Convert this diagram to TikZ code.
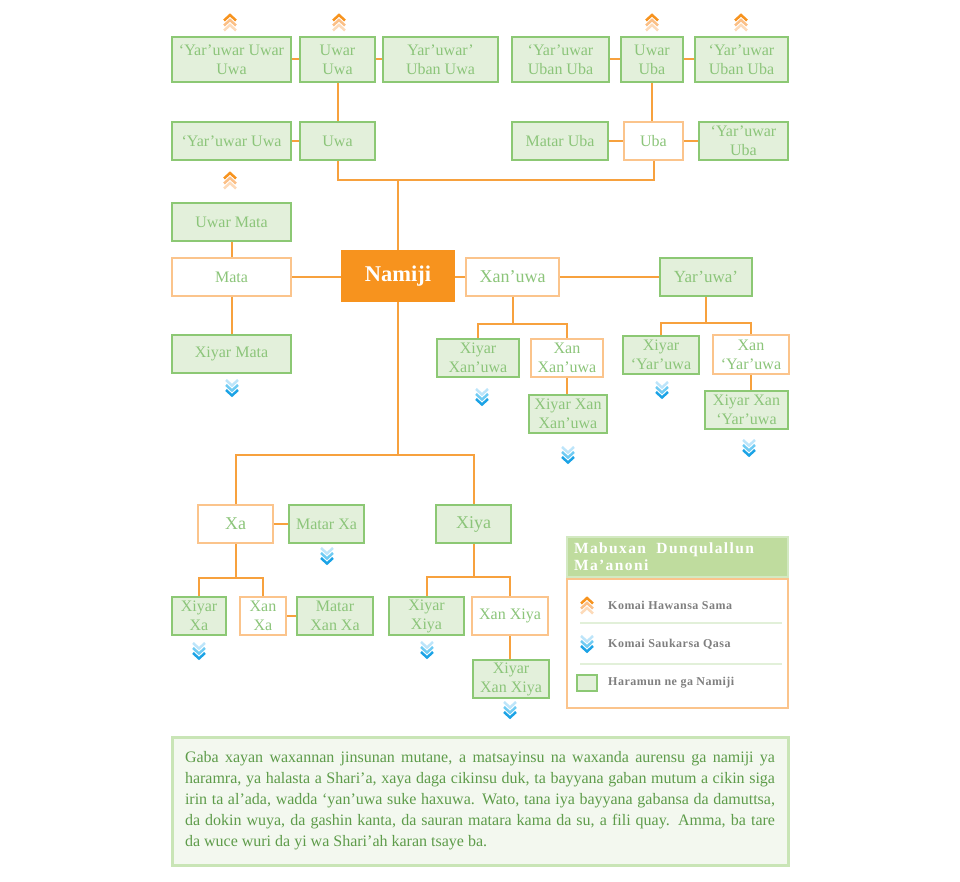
\documentclass[tikz,border=0pt]{standalone}
\usepackage{fontspec}
\setmainfont{Liberation Serif}
\definecolor{kinline}{HTML}{8CC874}
\definecolor{kinfill}{HTML}{E3F0DB}
\definecolor{kintext}{HTML}{8CC57A}
\definecolor{bloodline}{HTML}{FBC48C}
\definecolor{linkorange}{HTML}{F7A13E}
\definecolor{selffill}{HTML}{F7931E}
\definecolor{upA}{HTML}{F7931E}
\definecolor{upB}{HTML}{FBBF86}
\definecolor{upC}{HTML}{FDDAB8}
\definecolor{dnA}{HTML}{BDE5FA}
\definecolor{dnB}{HTML}{6FCBF3}
\definecolor{dnC}{HTML}{1BA3E6}
\definecolor{leghead}{HTML}{BFDC9E}
\definecolor{legheadline}{HTML}{D3E9C2}
\definecolor{legsep}{HTML}{E2F0D9}
\definecolor{legray}{HTML}{7F7F7F}
\definecolor{notefill}{HTML}{F3F8EF}
\definecolor{noteline}{HTML}{C9E5B6}
\definecolor{notetext}{HTML}{5E9C4A}
\begin{document}
\begin{tikzpicture}[x=1pt,y=-1pt,
  every node/.style={inner sep=0pt, align=center, text=kintext, font={\fontsize{16}{19}\selectfont}},
  kin/.style={draw=kinline, fill=kinfill, line width=2pt},
  blood/.style={draw=bloodline, fill=white, line width=2pt},
  bx/.style 2 args={minimum width=#1, minimum height=#2},
  big/.style={font={\fontsize{18}{21}\selectfont}},
  link/.style={linkorange, line width=2pt},
  legtext/.style={text=legray, font={\fontsize{12}{14}\selectfont\bfseries\addfontfeature{LetterSpace=4}}}]
  \useasboundingbox (0,0) rectangle (960,882);
  % ascendants
  \node[kin, bx={119}{45}] (yuuw) at (231.5,59.5) {‘Yar’uwar Uwar\\Uwa};
  \node[kin, bx={75}{45}] (uuw) at (337.5,59.5) {Uwar\\Uwa};
  \node[kin, bx={115}{45}] (yubuw) at (440.5,59.5) {Yar’uwar’\\Uban Uwa};
  \node[kin, bx={97}{45}] (yubub) at (560.5,59.5) {‘Yar’uwar\\Uban Uba};
  \node[kin, bx={62}{45}] (uub) at (652,59.5) {Uwar\\Uba};
  \node[kin, bx={93}{45}] (yububb) at (741.5,59.5) {‘Yar’uwar\\Uban Uba};
  \node[kin, bx={119}{38}] (yuw) at (231.5,141) {‘Yar’uwar Uwa};
  \node[kin, bx={75}{38}] (uwa) at (337.5,141) {Uwa};
  \node[kin, bx={96}{38}] (mub) at (560,141) {Matar Uba};
  \node[blood, bx={59}{38}] (uba) at (653.5,141) {Uba};
  \node[kin, bx={89}{38}] (yub) at (743.5,141) {‘Yar’uwar\\Uba};
  % mata
  \node[kin, bx={119}{38}] (umata) at (231.5,222) {Uwar Mata};
  \node[blood, bx={119}{38}] (mata) at (231.5,277) {Mata};
  \node[kin, bx={119}{38}] (xmata) at (231.5,354) {Xiyar Mata};
  \node[fill=selffill, bx={114}{52}, text=white, font={\fontsize{22.5}{26}\selectfont\bfseries}] (namiji) at (398,276) {Namiji};
  % siblings
  \node[blood, big, bx={93}{38}] (xanuwa) at (512.5,277) {Xan’uwa};
  \node[kin, bx={92}{38}, font={\fontsize{17}{20}\selectfont}] (yaruwa) at (706,277) {Yar’uwa’};
  \node[kin, bx={82}{38}] (xixu) at (478,358) {Xiyar\\Xan’uwa};
  \node[blood, bx={72}{38}] (xanxu) at (567,358) {Xan\\Xan’uwa};
  \node[kin, bx={78}{38}] (xixanxu) at (568,414) {Xiyar Xan\\Xan’uwa};
  \node[kin, bx={76}{38}] (xiyu) at (661,355) {Xiyar\\‘Yar’uwa};
  \node[blood, bx={76}{39}] (xanyu) at (751,354.5) {Xan\\‘Yar’uwa};
  \node[kin, bx={83}{38}] (xixanyu) at (746.5,410) {Xiyar Xan\\‘Yar’uwa};
  % descendants
  \node[blood, big, bx={75}{38}] (xa) at (235.5,524) {Xa};
  \node[kin, bx={75}{38}] (mxa) at (326.5,524) {Matar Xa};
  \node[kin, big, bx={75}{38}] (xiya) at (473.5,524) {Xiya};
  \node[kin, bx={54}{38}] (xixa) at (199,616) {Xiyar\\Xa};
  \node[blood, bx={46}{38}] (xanxa) at (263,616) {Xan\\Xa};
  \node[kin, bx={76}{38}] (mxanxa) at (335,616) {Matar\\Xan Xa};
  \node[kin, bx={75}{38}] (xixiya) at (426.5,616) {Xiyar\\Xiya};
  \node[blood, bx={76}{38}] (xanxiya) at (510,616) {Xan Xiya};
  \node[kin, bx={76}{38}] (xixanxiya) at (511,679) {Xiyar\\Xan Xiya};
  % links
  \draw[link] (yuuw.east) -- (uuw.west);
  \draw[link] (uuw.east) -- (yubuw.west);
  \draw[link] (yubub.east) -- (uub.west);
  \draw[link] (uub.east) -- (yububb.west);
  \draw[link] (uuw.south) -- (uwa.north);
  \draw[link] (uub.south) -- (uub.south |- uba.north);
  \draw[link] (yuw.east) -- (uwa.west);
  \draw[link] (mub.east) -- (uba.west);
  \draw[link] (uba.east) -- (yub.west);
  \draw[link] (namiji.north) -- ++(0,-70) coordinate (upj);
  \draw[link] (uwa.south) |- (upj) -| (uba.south);
  \draw[link] (umata.south) -- (mata.north);
  \draw[link] (mata.south) -- (xmata.north);
  \draw[link] (mata.east) -- (mata.east -| namiji.west);
  \draw[link] (namiji.east |- xanuwa.west) -- (xanuwa.west);
  \draw[link] (xanuwa.east) -- (yaruwa.west);
  \draw[link] (xanuwa.south) -- ++(0,27) coordinate (xuj);
  \draw[link] (xixu.north) |- (xuj) -| (xanxu.north);
  \draw[link] (xanxu.south) -- (xanxu.south |- xixanxu.north);
  \draw[link] (yaruwa.south) -- ++(0,26) coordinate (yuj);
  \draw[link] (xiyu.north) |- (yuj) -| (xanyu.north);
  \draw[link] (xanyu.south) -- (xanyu.south |- xixanyu.north);
  \draw[link] (namiji.south) -- ++(0,153) coordinate (dnj);
  \draw[link] (xa.north) |- (dnj) -| (xiya.north);
  \draw[link] (xa.east) -- (mxa.west);
  \draw[link] (xa.south) -- ++(0,34) coordinate (xaj);
  \draw[link] (xixa.north) |- (xaj) -| (xanxa.north);
  \draw[link] (xanxa.east) -- (mxanxa.west);
  \draw[link] (xiya.south) -- ++(0,33) coordinate (xij);
  \draw[link] (xixiya.north) |- (xij) -| (xanxiya.north);
  \draw[link] (xanxiya.south) -- (xanxiya.south |- xixanxiya.north);
  % legend
  \node[fill=leghead, draw=legheadline, line width=1.5pt, bx={221}{40}, text width=207, align=left, text=white,
    font={\fontsize{15.5}{17}\selectfont\bfseries\addfontfeature{LetterSpace=9}}] (leghead) at (677.5,557) {Mabuxan\ \ Dunqulallun\\Ma’anoni};
  \node[draw=bloodline, line width=1.5pt, fill=white, bx={221}{129}] (legbox) at (677.5,643.5) {};
  \draw[legsep, line width=2pt] (580,623) -- (782,623);
  \draw[legsep, line width=2pt] (580,664) -- (782,664);
  \node[legtext, anchor=west] (legup) at (608,605) {Komai Hawansa Sama};
  \node[legtext, anchor=west] (legdn) at (608,644) {Komai Saukarsa Qasa};
  \node[kin, line width=1.5pt, bx={20}{16}] (legkin) at (587,683) {};
  \node[legtext, anchor=west] (legkt) at (608,683) {Haramun ne ga Namiji};
  % generation marks
  \foreach \ax/\ay in {230/15,339/15,652/15,741/15,230/173,587/598}
    \foreach \i/\col in {2/upC,1/upB,0/upA}
      \draw[\col, line width=2.5pt] (\ax-6,\ay+5.5+5*\i) -- (\ax,\ay+5*\i) -- (\ax+6,\ay+5.5+5*\i);
  \foreach \ax/\ay in {232/380,482/389,568/447,662/382,749/440,327/548,199/643,427/642,510/702,587/636}
    \foreach \i/\col in {0/dnA,1/dnB,2/dnC}
      \draw[\col, line width=2.5pt] (\ax-6,\ay+5*\i) -- (\ax,\ay+5.5+5*\i) -- (\ax+6,\ay+5*\i);
  % note
  \node[draw=noteline, line width=3pt, fill=notefill, bx={616}{128}, text width=590, align=justify, text=notetext,
    font={\fontsize{16}{21}\selectfont}] (note) at (480,801)
    {Gaba xayan waxannan jinsunan mutane, a matsayinsu na waxanda aurensu ga namiji ya\linebreak
     haramra, ya halasta a Shari’a, xaya daga cikinsu duk, ta bayyana gaban mutum a cikin siga\linebreak
     irin ta al’ada, wadda ‘yan’uwa suke haxuwa. Wato, tana iya bayyana gabansa da damuttsa,\linebreak
     da dokin wuya, da gashin kanta, da sauran matara kama da su, a fili quay. Amma, ba tare\linebreak
     da wuce wuri da yi wa Shari’ah karan tsaye ba.};
\end{tikzpicture}
\end{document}
